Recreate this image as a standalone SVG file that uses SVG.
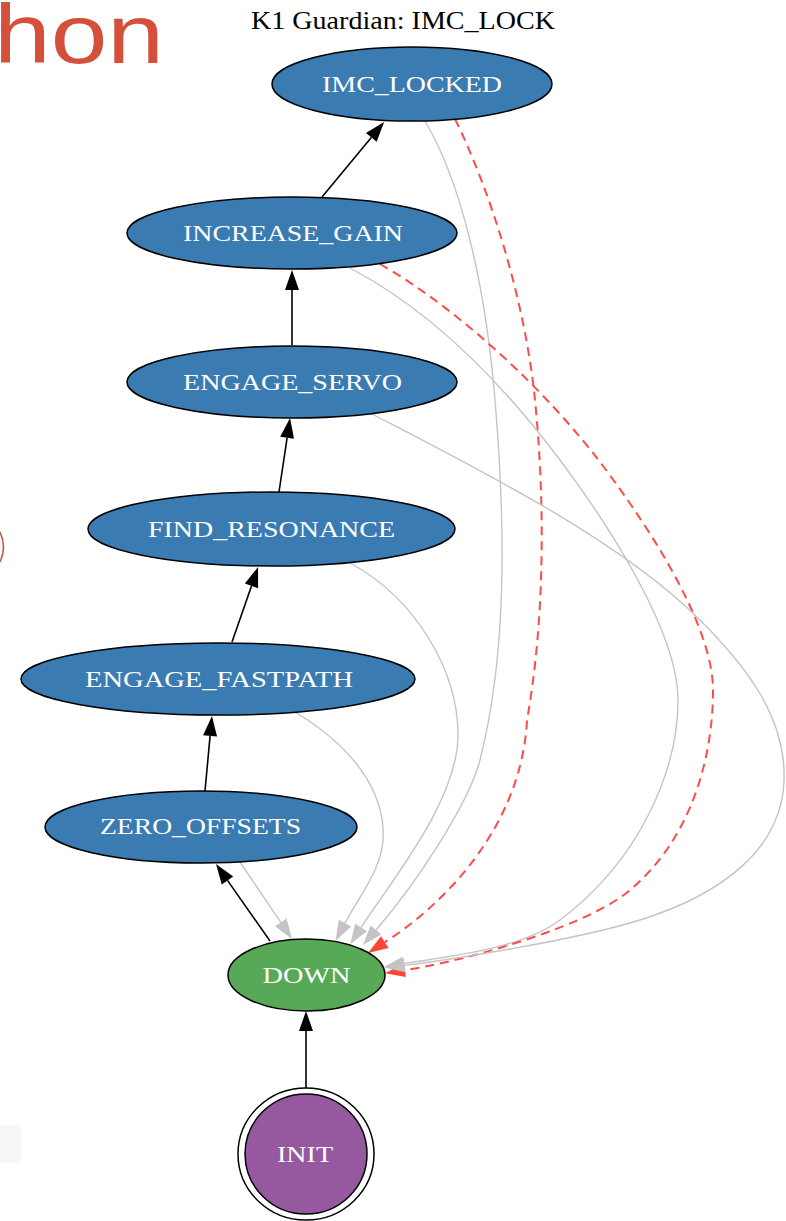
<svg xmlns="http://www.w3.org/2000/svg" width="786" height="1221" viewBox="0 0 786 1221">
<style>
.node ellipse{stroke:#000;stroke-width:1.5}
.blue{fill:#3a7bb2}
.green{fill:#58a957}
.purple{fill:#96589f}
.lbl{font-family:"Liberation Serif","Times New Roman",serif;font-size:24px;fill:#fff;text-anchor:middle}
.black{stroke:#000;stroke-width:1.6;fill:none}
.gray{stroke:#c4c4c4;stroke-width:1.4;fill:none}
.red{stroke:#ff4a4a;stroke-width:2;fill:none;stroke-dasharray:9 6}
</style>
<defs>
<marker id="ab" markerUnits="userSpaceOnUse" markerWidth="21" markerHeight="15" refX="0" refY="7" orient="auto" overflow="visible"><path d="M0,0 L20,7 L0,14 z" fill="#000"/></marker>
<marker id="ag" markerUnits="userSpaceOnUse" markerWidth="21" markerHeight="15" refX="0" refY="7" orient="auto" overflow="visible"><path d="M0,0 L20,7 L0,14 z" fill="#c4c4c4"/></marker>
<marker id="ar" markerUnits="userSpaceOnUse" markerWidth="21" markerHeight="15" refX="0" refY="7" orient="auto" overflow="visible"><path d="M0,0 L20,7 L0,14 z" fill="#ff4535"/></marker>
</defs>
<rect width="786" height="1221" fill="#fff"/>
<text x="-6" y="63" font-family="'Liberation Sans',Arial,sans-serif" font-size="84" fill="#d4503a" textLength="170" lengthAdjust="spacingAndGlyphs">hon</text>
<path d="M0,532 Q7,547 0,562" fill="none" stroke="#c0504d" stroke-width="1.6"/>
<rect x="0" y="1125" width="21" height="38" fill="#f6f6f6"/>
<text x="251" y="29" font-family="'Liberation Serif','Times New Roman',serif" font-size="25" fill="#000" textLength="304" lengthAdjust="spacingAndGlyphs">K1 Guardian: IMC_LOCK</text>
<g id="connectors">
<path class="black" marker-end="url(#ab)" d="M306,1088 L306,1031"/>
<path class="black" marker-end="url(#ab)" d="M270,941 L227.5,880.4"/>
<path class="black" marker-end="url(#ab)" d="M205,791 L210.1,735.9"/>
<path class="black" marker-end="url(#ab)" d="M232,642 L251.5,585.9"/>
<path class="black" marker-end="url(#ab)" d="M279,492 L287.1,437.8"/>
<path class="black" marker-end="url(#ab)" d="M292,345 L292,290"/>
<path class="black" marker-end="url(#ab)" d="M322,197 L371.3,137.4"/>
<path class="gray" marker-end="url(#ag)" d="M240,862 L280.8,922.4"/>
<path class="gray" marker-end="url(#ag)" d="M295,712 C350,745 386,790 383,840 C381,870 360,895 345,923.1"/>
<path class="gray" marker-end="url(#ag)" d="M350,563 C415,598 458,670 458,735 C458,800 392,880 361.1,927.4"/>
<path class="gray" marker-end="url(#ag)" d="M425,121 C460,180 485,280 495,400 C505,520 508,650 480,760 C468.8,804 415,885 376,930"/>
<path class="red" marker-end="url(#ar)" d="M455,119 C490,190 525,300 535,400 C545,500 545,620 527,720 C522,820 452,899 384.8,942.2"/>
<path class="gray" marker-end="url(#ag)" d="M350,268 C430,310 500,380 560,460 C605,520 678,630 678,700 C678,770 640,860 560,920 C520,950 443,957 403.7,963.6"/>
<path class="red" marker-end="url(#ar)" d="M380,264 C460,310 545,390 600,462 C638,512 713,620 713,690 C713,760 690,840 630,890 C590,925 470,960 404.8,970.2"/>
<path class="gray" marker-end="url(#ag)" d="M370,413 C480,470 620,540 700,620 C750,670 786,720 784,780 C782,850 720,895 640,920 C576,940 449,960 404.8,965.4"/>
</g>
<g id="IMC_LOCKED" class="node"><ellipse class="blue" cx="412" cy="84" rx="140" ry="37"/><text class="lbl" x="412" y="92" textLength="180" lengthAdjust="spacingAndGlyphs">IMC_LOCKED</text></g>
<g id="INCREASE_GAIN" class="node"><ellipse class="blue" cx="292" cy="233" rx="165" ry="36"/><text class="lbl" x="293" y="241" textLength="220" lengthAdjust="spacingAndGlyphs">INCREASE_GAIN</text></g>
<g id="ENGAGE_SERVO" class="node"><ellipse class="blue" cx="292" cy="382" rx="165" ry="36"/><text class="lbl" x="292.5" y="390" textLength="219" lengthAdjust="spacingAndGlyphs">ENGAGE_SERVO</text></g>
<g id="FIND_RESONANCE" class="node"><ellipse class="blue" cx="271.5" cy="529" rx="183.5" ry="37"/><text class="lbl" x="271.5" y="537" textLength="247" lengthAdjust="spacingAndGlyphs">FIND_RESONANCE</text></g>
<g id="ENGAGE_FASTPATH" class="node"><ellipse class="blue" cx="218" cy="679" rx="197" ry="36"/><text class="lbl" x="219" y="687" textLength="268" lengthAdjust="spacingAndGlyphs">ENGAGE_FASTPATH</text></g>
<g id="ZERO_OFFSETS" class="node"><ellipse class="blue" cx="201" cy="827" rx="156" ry="36"/><text class="lbl" x="200.5" y="834" textLength="201" lengthAdjust="spacingAndGlyphs">ZERO_OFFSETS</text></g>
<g id="DOWN" class="node"><ellipse class="green" cx="306.5" cy="975" rx="78.5" ry="36"/><text class="lbl" x="306.5" y="983" textLength="88" lengthAdjust="spacingAndGlyphs">DOWN</text></g>
<g id="INIT" class="node"><ellipse cx="306" cy="1154" rx="68" ry="66" fill="#fff"/><ellipse class="purple" cx="306" cy="1154" rx="61" ry="60"/><text class="lbl" x="305" y="1162" textLength="56" lengthAdjust="spacingAndGlyphs">INIT</text></g>
</svg>
